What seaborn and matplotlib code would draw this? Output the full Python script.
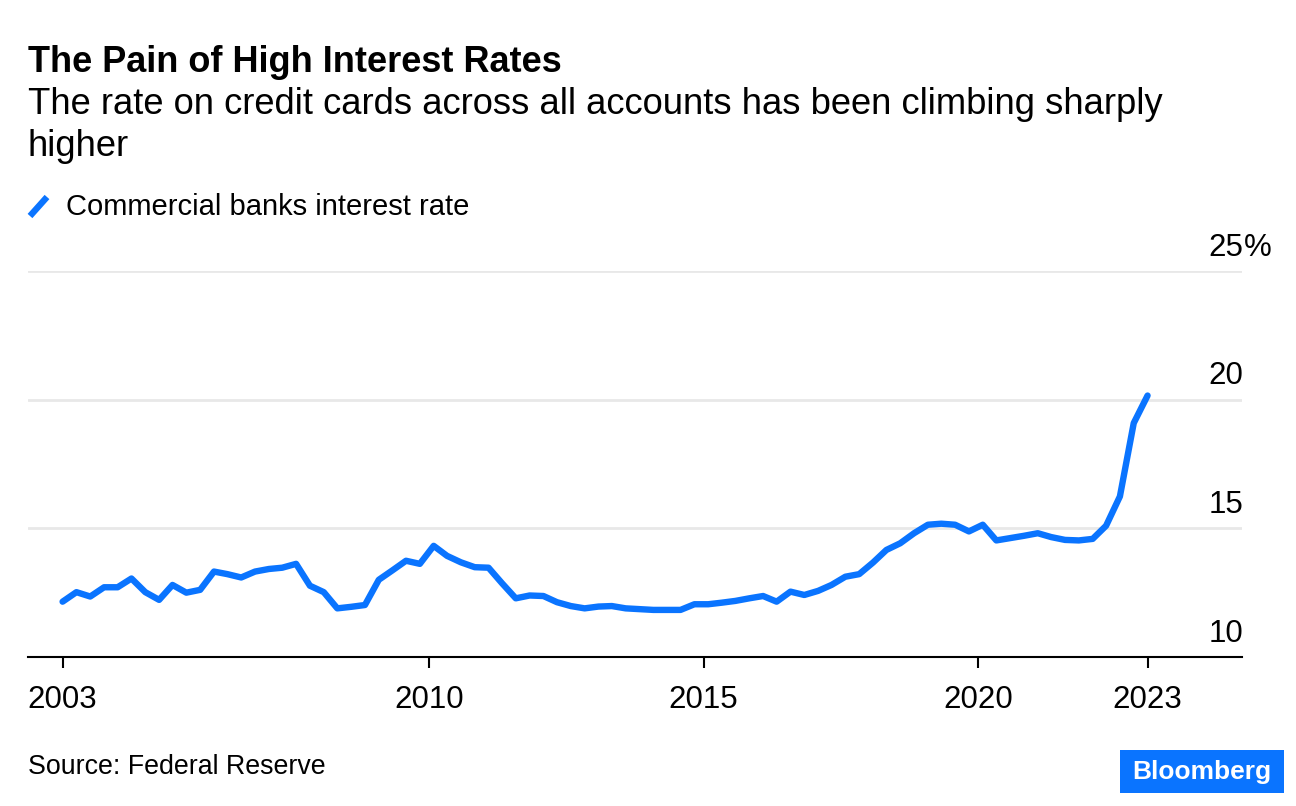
import matplotlib
matplotlib.use('Agg')
import matplotlib.pyplot as plt
import matplotlib.dates as mdates
from matplotlib.lines import Line2D
from matplotlib.patches import Rectangle
import pandas as pd
import seaborn as sns

# quarterly credit card rate, all accounts (%)
first_quarter = '2003-05-01'
rates = [12.15, 12.52, 12.35, 12.71, 12.71, 13.05, 12.52, 12.22, 12.80, 12.50,
         12.61, 13.32, 13.22, 13.09, 13.32, 13.42, 13.47, 13.62, 12.77, 12.52,
         11.89, 11.95, 12.02, 13.00, 13.36, 13.74, 13.62, 14.32, 13.93, 13.68,
         13.49, 13.47, 12.87, 12.28, 12.39, 12.37, 12.13, 11.98, 11.89, 11.96,
         11.98, 11.89, 11.86, 11.83, 11.83, 11.83, 12.05, 12.05, 12.11, 12.18,
         12.28, 12.37, 12.15, 12.54, 12.41, 12.57, 12.80, 13.12, 13.22, 13.67,
         14.16, 14.42, 14.81, 15.14, 15.18, 15.14, 14.88, 15.14, 14.53, 14.62,
         14.71, 14.81, 14.66, 14.55, 14.53, 14.59, 15.10, 16.24, 19.09, 20.16]
tick_dates = ['2003-05-01', '2010-01-01', '2015-01-01', '2020-01-01', '2023-02-01']
tick_labels = ['2003', '2010', '2015', '2020', '2023']
grid_levels = [15, 20, 25]
y_levels = [10, 15, 20, 25]
y_labels = ['10', '15', '20', '25']

dates = pd.date_range(first_quarter, periods=len(rates), freq='3MS')
df = pd.DataFrame({'date': dates, 'rate': rates})

sns.set_theme(style='white')
plt.rcParams['font.family'] = ['Liberation Sans', 'DejaVu Sans']
plt.rcParams['text.color'] = 'black'

blue = '#0a74ff'
W, H = 1296, 806
fig = plt.figure(figsize=(W / 100, H / 100), dpi=100)
ax = fig.add_axes([28 / W, 1 - 657 / H, (1242 - 28) / W, (657 - 271) / H])

sns.lineplot(data=df, x='date', y='rate', ax=ax, color=blue, linewidth=4.6,
             solid_capstyle='round', solid_joinstyle='round', legend=False)

x0 = mdates.date2num(dates[0]) - 230
x1 = mdates.date2num(dates[-1]) + 628
ax.set_xlim(x0, x1)
ax.set_ylim(10, 25)

ax.set_yticks(grid_levels)
ax.yaxis.grid(True, color='#e8e8e8', linewidth=2)
ax.tick_params(axis='y', length=0, labelleft=False, labelright=False)
ax.set_xticks(mdates.date2num(pd.to_datetime(tick_dates)))
ax.set_xticklabels(tick_labels, fontsize=22.5, color='black')
ax.tick_params(axis='x', length=8, width=1.5, color='black', pad=12, bottom=True,
               labelcolor='black')
ax.set_xlabel('')
ax.set_ylabel('')

for side in ['top', 'right', 'left']:
    ax.spines[side].set_visible(False)
ax.spines['bottom'].set_color('black')
ax.spines['bottom'].set_linewidth(1.5)

# y labels sitting above the gridlines at the right edge
for lvl, lab in zip(y_levels, y_labels):
    ax.annotate(lab, xy=(1.0, lvl), xycoords=('axes fraction', 'data'),
                xytext=(1, 6), textcoords='offset points',
                ha='right', va='bottom', fontsize=22.5, color='black')
ax.annotate('%', xy=(1.0, 25), xycoords=('axes fraction', 'data'),
            xytext=(1, 6), textcoords='offset points',
            ha='left', va='bottom', fontsize=22.5, color='black')

fig.text(28 / W, 1 - 62 / H, 'The Pain of High Interest Rates', fontsize=26,
         fontweight='bold', ha='left', va='center', color='black')
fig.text(28 / W, 1 - 104 / H, 'The rate on credit cards across all accounts has been climbing sharply',
         fontsize=26.2, ha='left', va='center', color='black')
fig.text(28 / W, 1 - 146 / H, 'higher', fontsize=26.2, ha='left', va='center', color='black')

# legend
fig.add_artist(Line2D([30 / W, 47 / W], [1 - 216 / H, 1 - 197 / H], color=blue,
                      linewidth=4.6, solid_capstyle='butt'))
fig.text(66 / W, 1 - 207 / H, 'Commercial banks interest rate', fontsize=21,
         ha='left', va='center', color='black')

fig.text(28 / W, 1 - 767 / H, 'Source: Federal Reserve', fontsize=19.3,
         ha='left', va='center', color='black')

fig.add_artist(Rectangle((1120 / W, 1 - 793 / H), 164 / W, 43 / H,
                         transform=fig.transFigure, color=blue, linewidth=0))
fig.text(1202 / W, 1 - 772 / H, 'Bloomberg', fontsize=19, fontweight='bold',
         color='white', ha='center', va='center')

fig.savefig('out.png', dpi=100, facecolor='white')
